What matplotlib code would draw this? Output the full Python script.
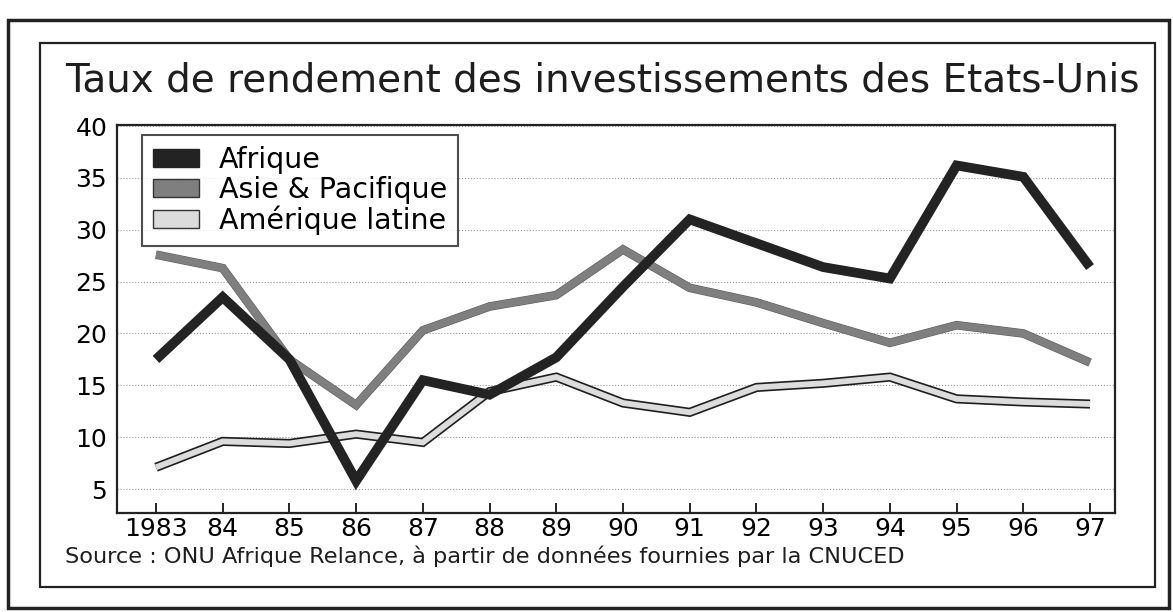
import matplotlib.pyplot as plt
import matplotlib.patches as mpatches
import matplotlib.patheffects as pe

plt.rcParams['font.family'] = ['DejaVu Sans']

# donnees
years = [1983, 1984, 1985, 1986, 1987, 1988, 1989, 1990, 1991, 1992, 1993, 1994, 1995, 1996, 1997]
year_labels = ['1983', '84', '85', '86', '87', '88', '89', '90', '91', '92', '93', '94', '95', '96', '97']
afrique = [17.5, 23.5, 17.5, 5.8, 15.5, 14.1, 17.7, 24.5, 31.0, 28.7, 26.4, 25.3, 36.2, 35.1, 26.4]
asie = [27.6, 26.3, 17.5, 13.1, 20.3, 22.6, 23.7, 28.1, 24.4, 23.0, 21.0, 19.1, 20.8, 20.0, 17.2]
amerique = [7.1, 9.6, 9.4, 10.3, 9.5, 14.4, 15.8, 13.3, 12.4, 14.8, 15.2, 15.8, 13.7, 13.4, 13.2]
y_ticks = [5, 10, 15, 20, 25, 30, 35, 40]

fig = plt.figure(figsize=(11.73, 6.12), dpi=100, facecolor='w')
ax = fig.add_axes([0.0997, 0.1618, 0.8509, 0.6340])

# cadres autour du graphique
fig.patches.append(mpatches.Rectangle((0.0068, 0.0065), 0.99, 0.9605, transform=fig.transFigure,
                                      fill=False, edgecolor='#222222', linewidth=2.5))
fig.patches.append(mpatches.Rectangle((0.0341, 0.0408), 0.9506, 0.8889, transform=fig.transFigure,
                                      fill=False, edgecolor='#222222', linewidth=1.6))

# les courbes
ax.plot(years, amerique, color='#dcdcdc', linewidth=4.2, solid_joinstyle='miter',
        solid_capstyle='butt', zorder=3,
        path_effects=[pe.Stroke(linewidth=6.6, foreground='#1e1e1e'), pe.Normal()])
ax.plot(years, asie, color='#7f7f7f', linewidth=5.4, solid_joinstyle='miter',
        solid_capstyle='butt', zorder=4,
        path_effects=[pe.Stroke(linewidth=6.2, foreground='#5a5a5a'), pe.Normal()])
ax.plot(years, afrique, color='#232323', linewidth=7, solid_joinstyle='miter',
        solid_capstyle='butt', zorder=5)

ax.set_xlim(1983 - 0.585, 1997 + 0.375)
ax.set_ylim(2.7, 40.1)
ax.set_xticks(years)
ax.set_xticklabels(year_labels)
ax.set_yticks(y_ticks)
ax.tick_params(axis='x', direction='in', length=7, width=1.2, pad=3, labelsize=18)
ax.tick_params(axis='y', length=0, pad=7, labelsize=18)

# grille pointillee
ax.grid(axis='y', linestyle=':', linewidth=0.8, color='#9a9a9a', zorder=0)
ax.set_axisbelow(True)
for s in ax.spines.values():
    s.set_linewidth(1.6)
    s.set_color('#222222')

patches = [
    mpatches.Patch(facecolor='#232323', edgecolor='#232323', label='Afrique'),
    mpatches.Patch(facecolor='#7f7f7f', edgecolor='#333333', label='Asie & Pacifique'),
    mpatches.Patch(facecolor='#dcdcdc', edgecolor='#333333', label='Amérique latine'),
]
leg = ax.legend(handles=patches, loc='upper left', bbox_to_anchor=(0.025, 0.974),
                fontsize=20.5, frameon=True, fancybox=False, handlelength=1.6,
                handleheight=0.6, labelspacing=0.05, borderpad=0.4, handletextpad=0.7,
                borderaxespad=0)
leg.get_frame().set_edgecolor('#222222')
leg.get_frame().set_linewidth(1.5)
leg.set_zorder(6)

fig.text(0.0554, 0.85, 'Taux de rendement des investissements des Etats-Unis',
         fontsize=28, va='baseline', ha='left', color='#1e1e1e')
fig.text(0.0554, 0.08, 'Source : ONU Afrique Relance, à partir de données fournies par la CNUCED',
         fontsize=16.1, va='baseline', ha='left', color='#1e1e1e')

plt.savefig('out.png', dpi=100)
